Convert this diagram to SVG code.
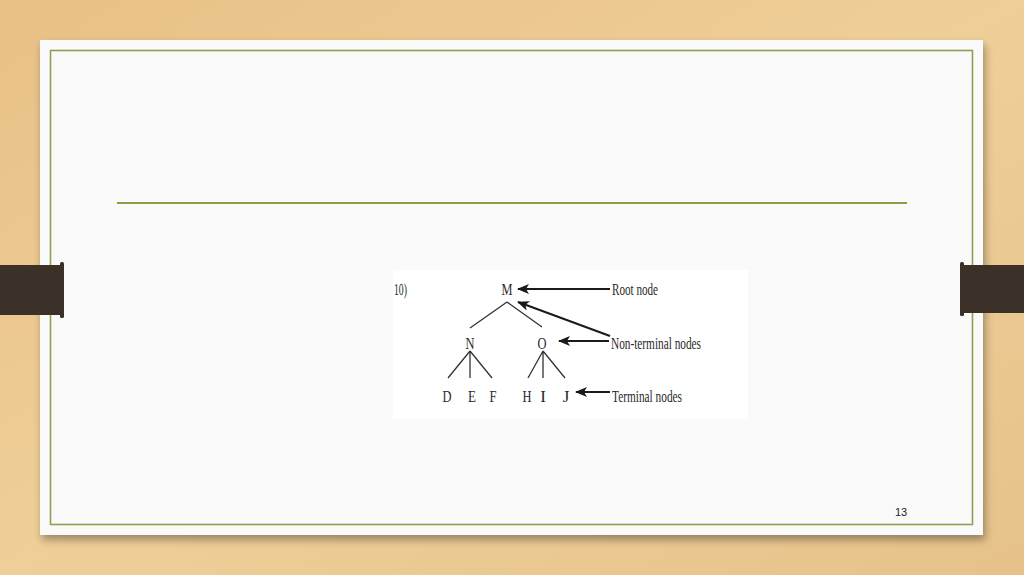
<svg xmlns="http://www.w3.org/2000/svg" width="1024" height="575" viewBox="0 0 1024 575">
<defs>
<linearGradient id="wood" x1="0" y1="0" x2="1" y2="1">
<stop offset="0" stop-color="#e9c086"/>
<stop offset="0.5" stop-color="#efcf98"/>
<stop offset="1" stop-color="#e6c28a"/>
</linearGradient>
<filter id="sh" x="-5%" y="-5%" width="110%" height="115%">
<feGaussianBlur in="SourceAlpha" stdDeviation="4"/>
<feOffset dx="2" dy="5"/>
<feComponentTransfer><feFuncA type="linear" slope="0.35"/></feComponentTransfer>
<feMerge><feMergeNode/><feMergeNode in="SourceGraphic"/></feMerge>
</filter>
<marker id="ah" viewBox="0 0 12 10" refX="11" refY="5" markerWidth="12" markerHeight="10" orient="auto" markerUnits="userSpaceOnUse">
<path d="M12,5 L0,0 L3,5 L0,10 Z" fill="#1a1a1a"/>
</marker>
<style>
.t{font-family:"Liberation Serif","Times New Roman",serif;font-size:17px;fill:#2a2a2a}
.lab{font-family:"Liberation Serif","Times New Roman",serif;font-size:16px;fill:#2a2a2a}
.edge{stroke:#333;stroke-width:1.3;fill:none}
.arr{stroke:#1a1a1a;stroke-width:2;fill:none}
.clip{fill:#3b3129}
</style>
</defs>
<rect width="1024" height="575" fill="url(#wood)"/>
<rect x="40" y="40" width="943" height="495" fill="#fafafa" filter="url(#sh)"/>
<rect x="50.5" y="50.5" width="922" height="474" fill="none" stroke="#8ca24e" stroke-width="1.6"/>
<line x1="117" y1="203" x2="907" y2="203" stroke="#8a9e44" stroke-width="2"/>
<g id="clip-left">
<rect class="clip" x="0" y="265" width="63" height="50"/>
<rect class="clip" x="60" y="262" width="4" height="56" rx="1.5"/>
</g>
<g id="clip-right">
<rect class="clip" x="961" y="265" width="63" height="48"/>
<rect class="clip" x="960" y="262" width="4" height="54" rx="1.5"/>
</g>
<rect x="393" y="270" width="355" height="149" fill="#ffffff"/>
<text class="t" x="394" y="295" textLength="13" lengthAdjust="spacingAndGlyphs">10)</text>
<g id="edges">
<path class="edge" d="M507,302 L470,328 M507,302 L542,327"/>
<path class="edge" d="M470,351 L448,378 M470,351 L470,378 M470,351 L492,378"/>
<path class="edge" d="M543,351 L528,378 M543,351 L543,378 M543,351 L565,378"/>
<line class="arr" x1="610" y1="289" x2="518" y2="289" marker-end="url(#ah)"/>
<line class="arr" x1="610" y1="336" x2="518" y2="302" marker-end="url(#ah)"/>
<line class="arr" x1="609" y1="341" x2="559" y2="341" marker-end="url(#ah)"/>
<line class="arr" x1="610" y1="392" x2="576" y2="392" marker-end="url(#ah)"/>
</g>
<g id="node-M"><text class="t" x="507" y="295" text-anchor="middle" textLength="11" lengthAdjust="spacingAndGlyphs">M</text></g>
<g id="node-N"><text class="t" x="470" y="349" text-anchor="middle" textLength="9" lengthAdjust="spacingAndGlyphs">N</text></g>
<g id="node-O"><text class="t" x="542" y="349" text-anchor="middle" textLength="9" lengthAdjust="spacingAndGlyphs">O</text></g>
<g id="node-D"><text class="t" x="447" y="402" text-anchor="middle" textLength="9" lengthAdjust="spacingAndGlyphs">D</text></g>
<g id="node-E"><text class="t" x="472" y="402" text-anchor="middle" textLength="8" lengthAdjust="spacingAndGlyphs">E</text></g>
<g id="node-F"><text class="t" x="493" y="402" text-anchor="middle" textLength="7" lengthAdjust="spacingAndGlyphs">F</text></g>
<g id="node-H"><text class="t" x="527" y="402" text-anchor="middle" textLength="9" lengthAdjust="spacingAndGlyphs">H</text></g>
<g id="node-I"><text class="t" x="543" y="402" text-anchor="middle">I</text></g>
<g id="node-J"><text class="t" x="566" y="402" text-anchor="middle">J</text></g>
<g id="label-root"><text class="lab" x="612" y="295" textLength="46" lengthAdjust="spacingAndGlyphs">Root node</text></g>
<g id="label-nonterminal"><text class="lab" x="611" y="349" textLength="90" lengthAdjust="spacingAndGlyphs">Non-terminal nodes</text></g>
<g id="label-terminal"><text class="lab" x="612" y="402" textLength="70" lengthAdjust="spacingAndGlyphs">Terminal nodes</text></g>
<text x="901" y="516" text-anchor="middle" font-family="Liberation Sans, Arial, sans-serif" font-size="11" fill="#222">13</text>
</svg>
